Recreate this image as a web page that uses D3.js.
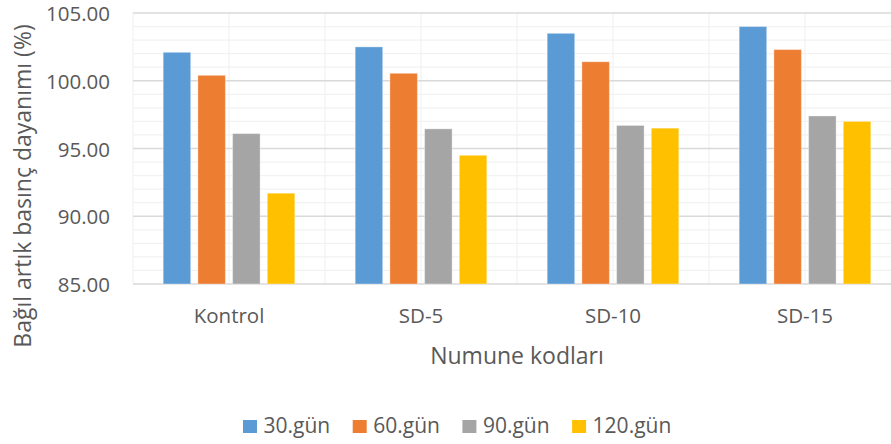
<!DOCTYPE html>
<html><head><meta charset="utf-8">
<script src="https://cdn.jsdelivr.net/npm/d3@7"></script>
<style>
html,body{margin:0;padding:0;background:#fff;}
svg{display:block;font-family:"Open Sans",sans-serif;}
</style></head>
<body><svg id="c" width="891" height="444"></svg>
<script>
const categories = ["Kontrol","SD-5","SD-10","SD-15"];
const seriesNames = ["30.gün","60.gün","90.gün","120.gün"];
const s30 = [102.1, 102.5, 103.5, 104.0];
const s60 = [100.4, 100.55, 101.4, 102.3];
const s90 = [96.1, 96.45, 96.7, 97.4];
const s120 = [91.7, 94.5, 96.5, 97.0];
const yTicks = [85, 90, 95, 100, 105];
const colors = ["#5B9BD5","#ED7D31","#A5A5A5","#FFC000"];
const allSeries = [s30, s60, s90, s120];

const svg = d3.select("#c");
const pL = 133, pR = 901, pT = 13, pB = 284;
const textColor = "#595959";
const FF = '"Open Sans",sans-serif';

const x = d3.scaleBand().domain(categories).range([pL, pR]);
const xs = d3.scaleBand().domain(seriesNames).range([0, x.bandwidth()]).paddingInner(0.2075).paddingOuter(0.87);
const y = d3.scaleLinear().domain([85, 105]).range([pB, pT]);

// minor horizontal gridlines
const minor = d3.range(85, 106, 1).filter(v => v % 5 !== 0);
svg.append("g").selectAll("line").data(minor).join("line")
  .attr("x1", pL).attr("x2", pR).attr("y1", d => y(d)).attr("y2", d => y(d))
  .attr("stroke", "#f2f2f2").attr("stroke-width", 1.2);
// vertical gridlines at band edges and centers
const vx = [];
categories.forEach(c => { vx.push(x(c)); vx.push(x(c) + x.bandwidth()/2); });
vx.push(pR);
svg.append("g").selectAll("line").data(vx).join("line")
  .attr("x1", d => d).attr("x2", d => d).attr("y1", pT).attr("y2", pB)
  .attr("stroke", "#f2f2f2").attr("stroke-width", 1.2);
// major horizontal gridlines
svg.append("g").selectAll("line").data(yTicks).join("line")
  .attr("x1", pL).attr("x2", pR).attr("y1", d => y(d)).attr("y2", d => y(d))
  .attr("stroke", "#d9d9d9").attr("stroke-width", 1.4);

// y axis labels
const yAxis = d3.axisLeft(y).tickValues(yTicks).tickFormat(d3.format(".2f")).tickSize(0).tickPadding(0);
const ga = svg.append("g").attr("transform", `translate(110,1)`).call(yAxis);
ga.select(".domain").remove();
ga.selectAll("text").attr("fill", textColor).style("font-size", "20.5px").style("font-family", FF);

// bars
const g = svg.append("g");
allSeries.forEach((vals, si) => {
  g.append("g").selectAll("rect").data(vals).join("rect")
    .attr("x", (d, i) => x(categories[i]) + xs(seriesNames[si]))
    .attr("width", xs.bandwidth())
    .attr("y", d => y(d))
    .attr("height", d => y(85) - y(d))
    .attr("fill", colors[si])
    .attr("stroke", "#ffffff").attr("stroke-opacity", 0.35).attr("stroke-width", 1);
});

// x axis
const xAxis = d3.axisBottom(x).tickSize(0).tickPadding(0);
const gx = svg.append("g").attr("transform", `translate(0,${pB + 24})`).call(xAxis);
gx.select(".domain").remove();
gx.selectAll("text").attr("fill", textColor).style("font-size", "20.5px").style("font-family", FF);

// axis titles
svg.append("text").attr("x", (pL + pR) / 2).attr("y", 364).attr("text-anchor", "middle")
  .attr("fill", textColor).style("font-size", "23px").text("Numune kodları");
svg.append("text").attr("transform", "translate(31,186) rotate(-90)").attr("text-anchor", "middle")
  .attr("fill", textColor).style("font-size", "23px").text("Bağıl artık basınç dayanımı (%)");

// legend
const lg = svg.append("g");
let lx = 243;
seriesNames.forEach((n, i) => {
  lg.append("rect").attr("x", lx).attr("y", 420).attr("width", 14).attr("height", 13).attr("fill", colors[i]);
  const t = lg.append("text").attr("x", lx + 20.5).attr("y", 433).attr("fill", textColor).style("font-size", "21px").text(n);
  lx += 20.5 + t.node().getComputedTextLength() + 22.5;
});
</script></body></html>
